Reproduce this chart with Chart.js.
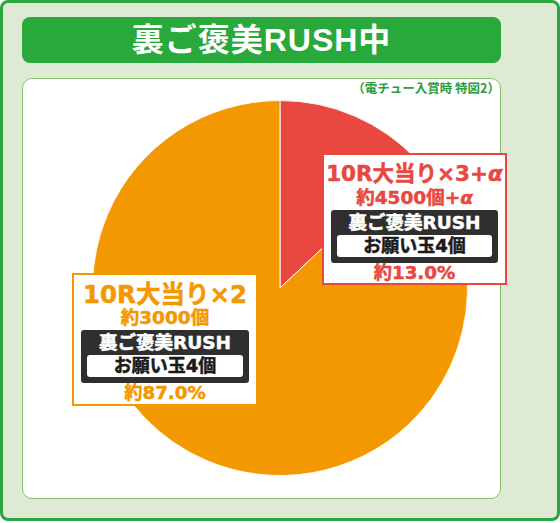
<!DOCTYPE html>
<html><head><meta charset="utf-8">
<script src="https://cdn.jsdelivr.net/npm/chart.js@4.4.1/dist/chart.umd.min.js"></script>
<style>
html,body{margin:0;padding:0;background:#fff;width:560px;height:523px;overflow:hidden;}
body{position:relative;font-family:"DejaVu Sans","Noto Sans CJK JP",sans-serif;}
#frame{position:absolute;left:0;top:0;width:560px;height:521px;box-sizing:border-box;border:3px solid #2ba640;border-radius:8px;background:#dfead5;}
#banner{position:absolute;left:22px;top:17px;width:479px;height:46px;background:#29a83c;border-radius:8px;color:#fff;text-align:center;line-height:46px;font-size:32px;letter-spacing:1px;font-family:"Liberation Sans","Noto Sans CJK JP",sans-serif;font-weight:bold;}
#panel{position:absolute;left:22px;top:78px;width:479px;height:421px;box-sizing:border-box;background:#fff;border:1px solid #86c16f;border-radius:10px;}
#note{position:absolute;right:60px;top:80px;font-size:12.5px;font-weight:bold;color:#2e9b3c;font-family:"Noto Sans CJK JP",sans-serif;line-height:16px;}
#chartWrap{position:absolute;left:92px;top:100px;width:376px;height:376px;}
.lab{position:absolute;box-sizing:border-box;background:#fff;border:2px solid;}
.lab .t{position:absolute;left:0;right:0;text-align:center;font-weight:bold;white-space:nowrap;font-family:"DejaVu Sans","Noto Sans CJK JP",sans-serif;-webkit-text-stroke:0.5px currentColor;}
.lab .dark{position:absolute;left:7px;right:7px;top:55px;height:53px;background:#2f2f2f;border-radius:3px;}
.lab .inner{position:absolute;left:6px;right:6px;top:25px;height:22px;background:#fff;border-radius:3px;}
i{font-style:italic;}
</style></head>
<body>
<div id="frame"></div>
<div id="banner"></div>
<div id="panel"></div>
<div id="note"></div>
<div id="chartWrap"><canvas id="c" width="376" height="376"></canvas></div>
<script>
const title = '裏ご褒美RUSH中';
const note = '（電チュー入賞時 特図2）';
const categories = ['10R大当り×3+α', '10R大当り×2'];
const shares = [13.0, 87.0];
const ballCounts = ['約4500個+α', '約3000個'];
const modeNames = ['裏ご褒美RUSH', '裏ご褒美RUSH'];
const reserveBalls = ['お願い玉4個', 'お願い玉4個'];
const colors = ['#e8483f', '#f39800'];

document.getElementById('banner').textContent = title;
document.getElementById('note').textContent = note;

new Chart(document.getElementById('c'), {
  type: 'pie',
  data: {
    labels: categories,
    datasets: [{ data: shares, backgroundColor: colors, borderColor: '#fff8ee', borderWidth: 1 }]
  },
  options: {
    responsive: false, animation: false,
    plugins: { legend: { display: false }, tooltip: { enabled: false } },
    layout: { padding: 0 }
  }
});

const boxes = [
  { left: 322, top: 153, width: 185, height: 132, f1: 21.5 },
  { left: 72, top: 273, width: 186, height: 133, f1: 24.5 }
];
function fmt(s){ return s.replace(/α/g,'<i>α</i>'); }
boxes.forEach((b, i) => {
  const d = document.createElement('div');
  d.className = 'lab';
  Object.assign(d.style, { left: b.left+'px', top: b.top+'px', width: b.width+'px', height: b.height+'px', borderColor: colors[i] });
  const c = colors[i];
  d.innerHTML =
    `<div class="t" style="top:${i===0?4:5}px;font-size:${b.f1}px;line-height:30px;color:${c}">${fmt(categories[i])}</div>` +
    `<div class="t" style="top:31px;font-size:18.5px;line-height:24px;color:${c}">${fmt(ballCounts[i])}</div>` +
    `<div class="dark"><div class="t" style="top:1px;font-size:18.5px;line-height:24px;color:#fff">${modeNames[i]}</div>` +
    `<div class="inner"><div class="t" style="top:-1px;font-size:18px;line-height:24px;color:#1a1a1a">${reserveBalls[i]}</div></div></div>` +
    `<div class="t" style="top:106px;font-size:18.3px;line-height:24px;color:${c}">約${shares[i].toFixed(1)}%</div>`;
  document.body.appendChild(d);
});
</script>
</body></html>
